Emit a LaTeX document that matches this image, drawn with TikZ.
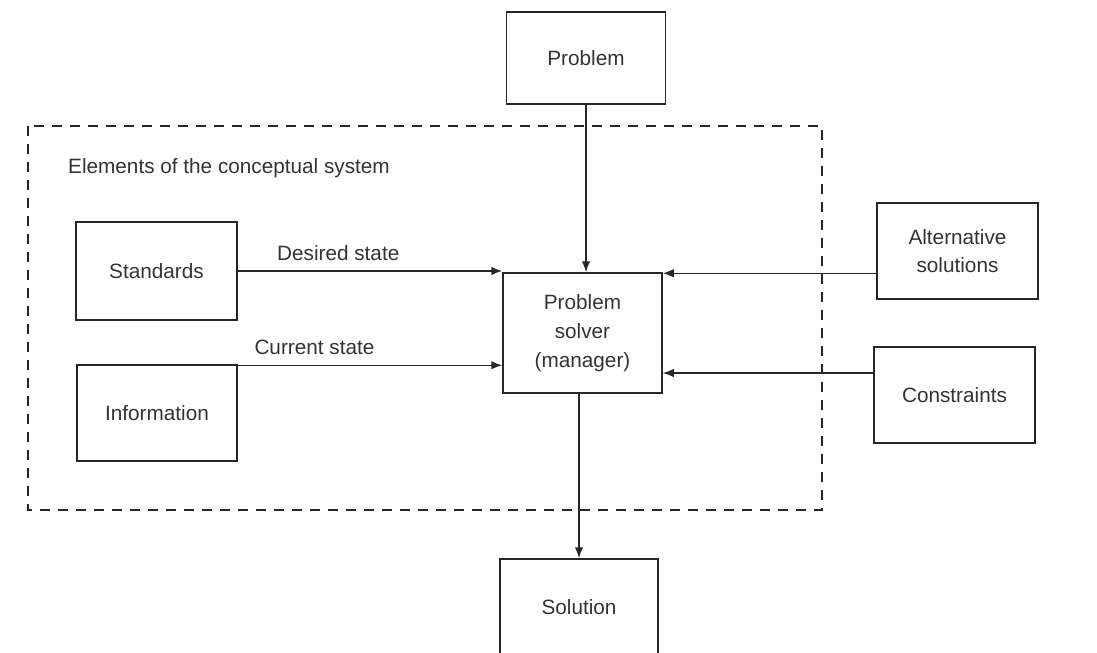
\documentclass[tikz,border=0pt]{standalone}
\usepackage{fontspec}
\setmainfont{Liberation Sans}
\usetikzlibrary{arrows.meta, positioning}

\begin{document}
\begin{tikzpicture}[
    block/.style={rectangle, draw=black!85, line width=0.85pt, minimum width=3.2cm, minimum height=1.92cm, align=center, text=black!80},
    flow/.style={-{Latex[length=2.2mm, width=1.7mm]}, draw=black!85, line width=0.85pt},
    frame/.style={draw=black!85, line width=1.3pt, dash pattern=on 2mm off 1.6mm},
    font=\fontsize{11.8}{16.3}\selectfont]
\useasboundingbox (0,0) rectangle (21.94,-13.06);
\clip (0,0) rectangle (21.94,-13.06);
\draw[frame] (0.56,-2.52) rectangle (16.44,-10.2);
\node[anchor=west, text=black!80] (elem) at (1.24,-3.36) {Elements of the conceptual system};
\node[block, minimum width=3.18cm, minimum height=1.84cm] (prob) at (11.72,-1.16) {Problem};
\node[block, minimum width=3.22cm, minimum height=1.96cm] (std) at (3.13,-5.42) {Standards};
\node[block] (info) at (3.14,-8.26) {Information};
\node[block, minimum width=3.18cm, minimum height=2.4cm] (solver) at (11.65,-6.66) {Problem\\solver\\(manager)};
\node[block, minimum width=3.22cm] (alt) at (19.15,-5.02) {Alternative\\solutions};
\node[block, minimum width=3.22cm] (cons) at (19.09,-7.9) {Constraints};
\node[block, minimum width=3.16cm] (sol) at (11.58,-12.14) {Solution};
\draw[flow] (prob) -- (prob |- solver.north);
\draw[flow] (std) -- node[pos=0.38, above=2pt, text=black!80] (desired) {Desired state} (std -| solver.west);
\draw[flow] ([yshift=-0.02cm]info.north east) -- node[pos=0.29, above=2pt, text=black!80] (current) {Current state} ([yshift=-0.02cm]info.north east -| solver.west);
\draw[flow] ([yshift=-0.02cm]solver.north east -| alt.west) -- ([yshift=-0.02cm]solver.north east);
\draw[flow] ([yshift=0.44cm]cons.west) -- ([yshift=0.44cm]cons.west -| solver.east);
\draw[flow] (solver.south -| sol) -- (sol);
\end{tikzpicture}
\end{document}
